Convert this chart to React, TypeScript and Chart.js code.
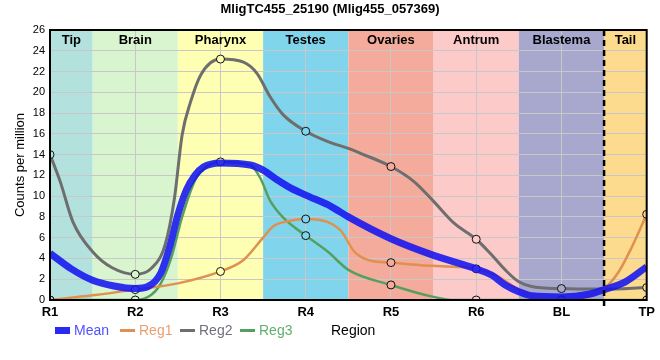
import React, { useEffect, useRef } from "react";
import { Chart, registerables } from "chart.js";

Chart.register(...registerables);

const TITLE = "MligTC455_25190 (Mlig455_057369)";
const Y_TITLE = "Counts per million";
const X_TITLE = "Region";
const categories = ["R1", "R2", "R3", "R4", "R5", "R6", "BL", "TP"];
const regionNames = ["Tip", "Brain", "Pharynx", "Testes", "Ovaries", "Antrum", "Blastema", "Tail"];
const regionStart = [0, 0.5, 1.5, 2.5, 3.5, 4.5, 5.5, 6.5];
const regionEnd = [0.5, 1.5, 2.5, 3.5, 4.5, 5.5, 6.5, 7];
const regionColors = ["#b3e2de", "#d8f5d0", "#ffffb4", "#80d5ec", "#f4ab9c", "#fdcaca", "#a8a8ce", "#fddb8e"];

// Series values (x in category units)
const meanX = [0, 0.25, 0.5, 0.75, 1, 1.15, 1.3, 1.4, 1.5, 1.6, 1.7, 1.8, 2, 2.35, 2.5, 2.66, 2.82, 3, 3.3, 3.5, 4, 4.5, 5, 5.18, 5.34, 5.5, 5.65, 6, 6.32, 6.5, 6.75, 7];
const meanY = [4.5, 3.0, 1.9, 1.35, 1.1, 1.3, 2.6, 5.0, 8.2, 10.6, 12.0, 12.8, 13.2, 13.0, 12.5, 11.6, 10.8, 10.1, 9.0, 8.0, 5.9, 4.3, 3.0, 2.4, 1.45, 0.8, 0.4, 0.3, 0.55, 1.0, 1.75, 3.2];

const reg1X = [0, 0.5, 1, 1.5, 2, 2.27, 2.5, 2.62, 2.8, 3, 3.26, 3.42, 3.57, 3.73, 4, 4.35, 4.74, 5, 5.25, 5.5, 5.75, 6, 6.25, 6.5, 6.67, 6.82, 7];
const reg1Y = [0, 0.45, 1.0, 1.6, 2.75, 3.85, 6.0, 7.1, 7.6, 7.8, 7.5, 6.6, 4.65, 3.85, 3.6, 3.35, 3.2, 3.0, 2.3, 1.0, 0.2, 0, 0.15, 1.1, 2.7, 5.0, 8.25];

const reg2X = [0, 0.12, 0.27, 0.5, 0.73, 1, 1.19, 1.35, 1.46, 1.55, 1.65, 1.77, 2, 2.27, 2.43, 2.58, 2.74, 3, 3.26, 3.5, 3.65, 4, 4.27, 4.5, 4.74, 5, 5.18, 5.34, 5.5, 5.65, 6, 6.5, 7];
const reg2Y = [14, 11.4, 7.5, 4.65, 3.1, 2.47, 3.05, 5.3, 9.8, 15.9, 19.1, 21.7, 23.2, 22.9, 21.8, 19.6, 17.8, 16.25, 15.25, 14.6, 14.1, 12.85, 11.4, 9.5, 7.4, 5.85, 4.35, 2.9, 1.75, 1.3, 1.1, 1.05, 1.2];

const reg3X = [0, 1, 1.19, 1.3, 1.42, 1.55, 1.7, 1.85, 2, 2.35, 2.47, 2.58, 2.74, 3, 3.26, 3.5, 4, 4.5, 4.75, 5, 6, 7];
const reg3Y = [0, 0, 0.5, 1.6, 4.0, 8.0, 11.5, 12.9, 13.3, 13.0, 11.7, 9.6, 7.9, 6.2, 4.65, 2.9, 1.45, 0.3, 0, 0, 0, 0];

const seriesNames = ["Mean", "Reg1", "Reg2", "Reg3"];
const seriesColors = ["rgba(20,20,240,0.88)", "#e0904f", "#6e6e6e", "#55a060"];
const legendTextColors = ["#5050ff", "#e8a070", "#707080", "#60b070"];

const FONT = "Arial, 'Liberation Sans', sans-serif";

function toPoints(xs: number[], ys: number[]) {
  return xs.map((x, i) => ({ x, y: ys[i] }));
}

function bandColorAt(x: number) {
  for (let i = 0; i < regionStart.length; i++) {
    if (x >= regionStart[i] && x < regionEnd[i]) return regionColors[i];
  }
  return regionColors[regionColors.length - 1];
}

const decorPlugin = {
  id: "decor",
  beforeDraw(chart: any) {
    const { ctx, chartArea } = chart;
    const xs = chart.scales.x;
    ctx.save();
    for (let i = 0; i < regionNames.length; i++) {
      const x0 = xs.getPixelForValue(regionStart[i]);
      const x1 = xs.getPixelForValue(regionEnd[i]);
      ctx.fillStyle = regionColors[i];
      ctx.fillRect(x0, chartArea.top, x1 - x0, chartArea.bottom - chartArea.top);
    }
    ctx.restore();
  },
  beforeDatasetsDraw(chart: any) {
    const { ctx, chartArea } = chart;
    const xs = chart.scales.x;
    ctx.save();
    ctx.fillStyle = "#000";
    ctx.font = `bold 13px ${FONT}`;
    ctx.textAlign = "center";
    ctx.textBaseline = "middle";
    for (let i = 0; i < regionNames.length; i++) {
      const x0 = xs.getPixelForValue(regionStart[i]);
      const x1 = xs.getPixelForValue(regionEnd[i]);
      ctx.fillText(regionNames[i], (x0 + x1) / 2, chartArea.top + 10);
    }
    ctx.restore();
  },
  afterDatasetsDraw(chart: any) {
    const { ctx, chartArea } = chart;
    const xs = chart.scales.x;
    ctx.save();
    const xd = xs.getPixelForValue(6.5);
    ctx.strokeStyle = "#000";
    ctx.lineWidth = 2.5;
    ctx.setLineDash([6, 4]);
    ctx.beginPath();
    ctx.moveTo(xd, chartArea.top);
    ctx.lineTo(xd, chartArea.bottom + 6);
    ctx.stroke();
    ctx.setLineDash([]);
    ctx.lineWidth = 2;
    ctx.strokeRect(chartArea.left, chartArea.top, chartArea.right - chartArea.left, chartArea.bottom - chartArea.top);
    ctx.restore();
  },
  afterDraw(chart: any) {
    const { ctx, width, chartArea } = chart;
    ctx.save();
    ctx.fillStyle = "#000";
    ctx.font = `bold 13px ${FONT}`;
    ctx.textAlign = "center";
    ctx.textBaseline = "middle";
    ctx.fillText(TITLE, width / 2, 9);

    // y axis title
    ctx.save();
    ctx.translate(20, (chartArea.top + chartArea.bottom) / 2);
    ctx.rotate(-Math.PI / 2);
    ctx.font = `13px ${FONT}`;
    ctx.fillText(Y_TITLE, 0, 0);
    ctx.restore();

    // legend
    const ly = 330.5;
    const starts = [55, 120, 180, 240];
    ctx.font = `14px ${FONT}`;
    ctx.textAlign = "left";
    for (let i = 0; i < seriesNames.length; i++) {
      const sx = starts[i];
      if (i === 0) {
        ctx.fillStyle = "#2a2af2";
        ctx.fillRect(sx, ly - 3.5, 15, 7);
      } else {
        ctx.strokeStyle = seriesColors[i];
        ctx.lineWidth = 3;
        ctx.beginPath();
        ctx.moveTo(sx, ly);
        ctx.lineTo(sx + 15, ly);
        ctx.stroke();
      }
      ctx.fillStyle = legendTextColors[i];
      ctx.fillText(seriesNames[i], sx + 19, ly + 1);
    }
    ctx.fillStyle = "#000";
    ctx.fillText(X_TITLE, 331, ly + 1);
    ctx.restore();
  },
};

export default function App() {
  const canvasRef = useRef<HTMLCanvasElement | null>(null);

  useEffect(() => {
    document.body.style.margin = "0";
    const canvas = canvasRef.current;
    if (!canvas) return;
    const markerRadius = (ctx: any) => (ctx.raw && Number.isInteger(ctx.raw.x) ? 4 : 0);
    const markerFill = (ctx: any) => (ctx.raw ? bandColorAt(ctx.raw.x) : "#fff");
    const regDataset = (idx: number, xs: number[], ys: number[], width: number) => ({
      label: seriesNames[idx],
      data: toPoints(xs, ys),
      borderColor: seriesColors[idx],
      borderWidth: width,
      cubicInterpolationMode: "monotone" as const,
      pointRadius: markerRadius,
      pointBackgroundColor: markerFill,
      pointBorderColor: "#111",
      pointBorderWidth: 1,
      fill: false,
    });
    const chart = new Chart(canvas, {
      type: "line",
      data: {
        datasets: [
          {
            label: seriesNames[0],
            data: toPoints(meanX, meanY),
            borderColor: seriesColors[0],
            borderWidth: 7,
            cubicInterpolationMode: "monotone",
            pointRadius: 0,
            fill: false,
          },
          regDataset(1, reg1X, reg1Y, 2.5),
          regDataset(2, reg2X, reg2Y, 3),
          regDataset(3, reg3X, reg3Y, 2.5),
        ],
      },
      options: {
        responsive: false,
        animation: false,
        devicePixelRatio: 1,
        events: [],
        layout: { padding: { top: 30, right: 10, left: 0, bottom: 0 } },
        plugins: {
          legend: { display: false },
          title: { display: false },
          tooltip: { enabled: false },
        },
        scales: {
          x: {
            type: "linear",
            min: 0,
            max: 7,
            afterFit: (s: any) => {
              s.height = 60;
            },
            afterBuildTicks: (s: any) => {
              s.ticks = categories.map((_, i) => ({ value: i }));
            },
            ticks: {
              stepSize: 1,
              autoSkip: false,
              maxRotation: 0,
              padding: 5,
              color: "#000",
              font: { family: FONT, size: 13, weight: "bold" },
              callback: (v: any) => categories[Math.round(Number(v))] ?? "",
            },
            grid: { color: "#c8c8c8", lineWidth: 1, drawTicks: false },
            border: { display: false },
          },
          y: {
            min: 0,
            max: 26,
            afterFit: (s: any) => {
              s.width = 50;
            },
            ticks: {
              stepSize: 2,
              padding: 5,
              color: "#000",
              font: { family: FONT, size: 11 },
            },
            grid: { color: "#c8c8c8", lineWidth: 1, drawTicks: false },
            border: { display: false },
          },
        },
      },
      plugins: [decorPlugin],
    });
    return () => chart.destroy();
  }, []);

  return (
    <div style={{ width: 660, height: 360 }}>
      <canvas ref={canvasRef} width={660} height={360} style={{ display: "block" }} />
    </div>
  );
}
